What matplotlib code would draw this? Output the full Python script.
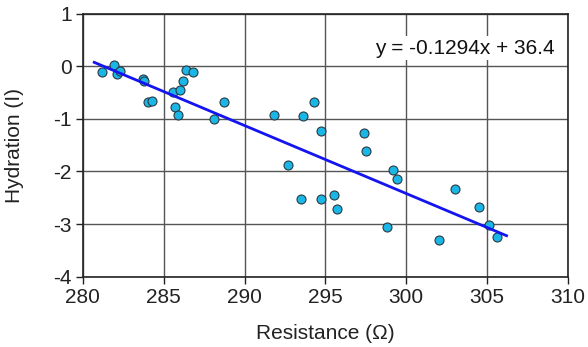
import numpy as np
import matplotlib
matplotlib.use("Agg")
import matplotlib.pyplot as plt

plt.rcParams['font.family'] = ['Liberation Sans', 'DejaVu Sans']
plt.rcParams['axes.unicode_minus'] = False

# resistance (ohm) vs hydration readings
resistance = [281.2, 281.9, 282.1, 282.3, 283.7, 283.8, 284.0, 284.3,
              285.6, 285.7, 286.0, 285.9, 286.2, 286.4, 286.8, 288.1,
              288.7, 291.8, 293.6, 294.3, 294.7, 297.4, 297.5, 292.7,
              299.2, 299.4, 293.5, 294.7, 295.5, 295.7, 303.0, 304.5,
              298.8, 302.0, 305.1, 305.6]
hydration = [-0.11, 0.02, -0.15, -0.08, -0.24, -0.28, -0.68, -0.66,
             -0.48, -0.78, -0.45, -0.93, -0.28, -0.07, -0.10, -1.00,
             -0.67, -0.92, -0.95, -0.67, -1.22, -1.26, -1.61, -1.87,
             -1.98, -2.15, -2.53, -2.53, -2.45, -2.71, -2.34, -2.68,
             -3.05, -3.31, -3.01, -3.24]

# trend line shown on the chart
slope = -0.1294
intercept = 36.4
fit_x = [280.7, 306.2]

fig = plt.figure(figsize=(5.88, 3.47), dpi=100)
ax = fig.add_axes([0.141, 0.203, 0.825, 0.757])

ax.scatter(resistance, hydration, s=42, color='#19b6e6', edgecolors='#2a3a44',
           linewidths=0.8, zorder=3)
fx = np.array(fit_x)
ax.plot(fx, slope * fx + intercept, color='#1414f0', lw=2, zorder=4)

ax.set_xlim(280, 310)
ax.set_ylim(-4, 1)
ax.set_xticks(range(280, 311, 5))
ax.set_yticks(range(-4, 2))
ax.grid(True, color='#555555', lw=1)
ax.set_axisbelow(True)
for s in ax.spines.values():
    s.set_color('#222222')
    s.set_linewidth(1.2)
ax.tick_params(direction='out', length=5, width=1, pad=3, labelsize=15,
               colors='#222222')

ax.set_xlabel('Resistance (Ω)', fontsize=15, color='#222222')
ax.set_ylabel('Hydration (I)', fontsize=15, color='#222222')
ax.xaxis.set_label_coords(0.5, -0.18)
ax.yaxis.set_label_coords(-0.122, 0.5)

ax.text(0.973, 0.87, 'y = -0.1294x + 36.4', transform=ax.transAxes,
        ha='right', va='center', fontsize=15, color='#111111',
        bbox=dict(facecolor='white', edgecolor='none', pad=2))

fig.savefig('out.png', dpi=100)
